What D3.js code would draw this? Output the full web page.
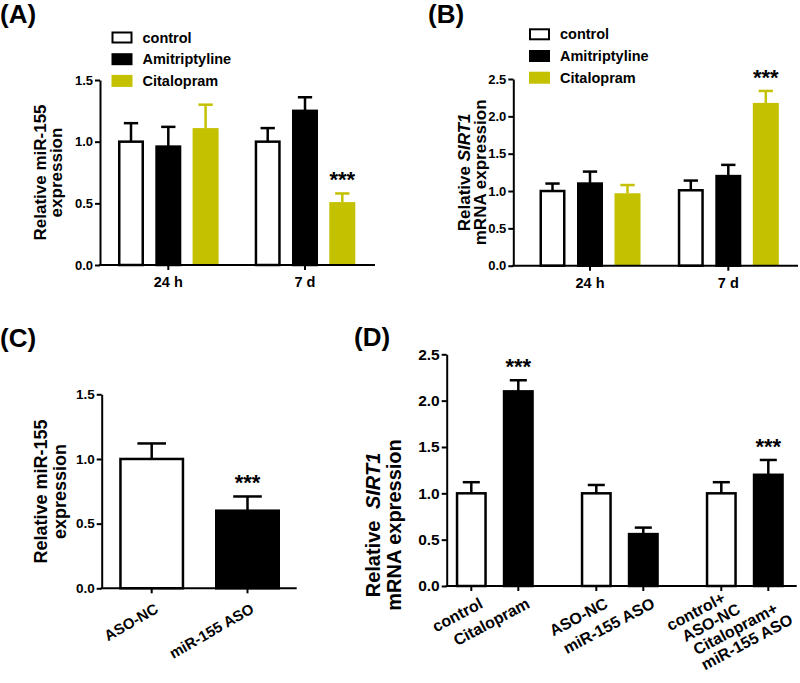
<!DOCTYPE html>
<html><head><meta charset="utf-8">
<script src="https://cdn.jsdelivr.net/npm/d3@7"></script>
<style>
body{margin:0;background:#fff}
svg{display:block;font-family:"Liberation Sans",Arial,Helvetica,sans-serif;font-weight:bold}
</style></head><body>
<svg id="chart" width="800" height="683"></svg>
<script>
// ---------- data ----------
const timePoints = ["24 h", "7 d"];
const treatments = ["control", "Amitriptyline", "Citalopram"];
const treatmentFill = ["#ffffff", "#000000", "#c3c100"];

// Panel A: relative miR-155 expression
const aMean = [[1.00, 0.96, 1.11], [1.00, 1.25, 0.51]];
const aErr  = [[0.15, 0.16, 0.19], [0.11, 0.11, 0.07]];
const aSig  = [["", "", ""], ["", "", "***"]];
const aTicks = [0, 0.5, 1.0, 1.5];

// Panel B: relative SIRT1 mRNA expression
const bMean = [[1.00, 1.10, 0.97], [1.01, 1.20, 2.18]];
const bErr  = [[0.10, 0.16, 0.11], [0.13, 0.15, 0.16]];
const bSig  = [["", "", ""], ["", "", "***"]];
const bTicks = [0, 0.5, 1.0, 1.5, 2.0, 2.5];

// Panel C
const cLabels = ["ASO-NC", "miR-155 ASO"];
const cMean = [1.00, 0.60];
const cErr  = [0.12, 0.11];
const cSig  = ["", "***"];
const cFill = ["#ffffff", "#000000"];
const cTicks = [0, 0.5, 1.0, 1.5];

// Panel D
const dGroups = ["g1", "g2", "g3"];
const dLabels = [["control"], ["Citalopram"], ["ASO-NC"], ["miR-155 ASO"], ["control+", "ASO-NC"], ["Citalopram+", "miR-155 ASO"]];
const dMean = [1.00, 2.10, 1.00, 0.56, 1.00, 1.20];
const dErr  = [0.12, 0.12, 0.09, 0.07, 0.12, 0.16];
const dSig  = ["", "***", "", "", "", "***"];
const dFill = ["#ffffff", "#000000", "#ffffff", "#000000", "#ffffff", "#000000"];
const dTicks = [0, 0.5, 1.0, 1.5, 2.0, 2.5];

// ---------- helpers ----------
const svg = d3.select("#chart");
const fmt = d3.format(".1f");
const AXW = 2;

function yAxis(g, y, x, ticks, fs) {
  const ax = g.append("g").attr("transform", `translate(${x},0)`)
    .call(d3.axisLeft(y).tickValues(ticks).tickFormat(fmt).tickSize(5).tickSizeOuter(0).tickPadding(2));
  ax.attr("font-family", null);
  ax.select(".domain").attr("stroke-width", AXW);
  ax.selectAll(".tick line").attr("stroke-width", AXW);
  ax.selectAll(".tick text").attr("font-size", fs).attr("fill", "#000");
}

function xAxisLine(g, y0, left, right, centers) {
  g.append("line").attr("x1", left - 1).attr("x2", right).attr("y1", y0).attr("y2", y0)
    .attr("stroke", "#000").attr("stroke-width", AXW);
  g.selectAll(null).data(centers).join("line")
    .attr("x1", d => d).attr("x2", d => d).attr("y1", y0).attr("y2", y0 + 5)
    .attr("stroke", "#000").attr("stroke-width", AXW);
}

function drawBars(g, data, y, bw, capRatio) {
  const isColor = d => d.fill !== "#ffffff" && d.fill !== "#000000";
  const eb = g.selectAll(null).data(data).join("g");
  eb.append("line").attr("x1", d => d.cx).attr("x2", d => d.cx)
    .attr("y1", d => y(d.v)).attr("y2", d => y(d.v + d.e))
    .attr("stroke", d => isColor(d) ? d.fill : "#000").attr("stroke-width", 2.5);
  eb.append("line").attr("x1", d => d.cx - bw * capRatio / 2).attr("x2", d => d.cx + bw * capRatio / 2)
    .attr("y1", d => y(d.v + d.e)).attr("y2", d => y(d.v + d.e))
    .attr("stroke", d => isColor(d) ? d.fill : "#000").attr("stroke-width", 2.5);
  g.selectAll(null).data(data).join("rect")
    .attr("x", d => d.cx - bw / 2 + (isColor(d) ? 0 : 1.25))
    .attr("width", d => bw - (isColor(d) ? 0 : 2.5))
    .attr("y", d => y(d.v))
    .attr("height", d => y(0) - y(d.v))
    .attr("fill", d => d.fill)
    .attr("stroke", d => isColor(d) ? "none" : "#000")
    .attr("stroke-width", 2.5);
  g.selectAll(null).data(data.filter(d => d.sig)).join("text")
    .attr("x", d => d.cx).attr("y", d => y(d.v + d.e) - 6)
    .attr("text-anchor", "middle").attr("font-size", 22).text(d => d.sig);
}

function yLabel(g, x, cy, lines, fs, lh) {
  const t = g.append("text").attr("transform", `translate(${x},${cy}) rotate(-90)`)
    .attr("text-anchor", "middle").attr("font-size", fs);
  lines.forEach((ln, i) => {
    const l = t.append("tspan").attr("x", 0).attr("y", i * lh);
    ln.forEach(part => {
      const s = l.append("tspan").text(part.t);
      if (part.i) s.attr("font-style", "italic");
      if (part.dx) s.attr("dx", part.dx);
    });
  });
}

function title(x, y, txt) {
  svg.append("text").attr("x", x).attr("y", y).attr("font-size", 26).text(txt);
}

function legend(g, x, y, step) {
  treatments.forEach((t, i) => {
    const yy = y + i * step;
    const col = treatmentFill[i] !== "#ffffff" && treatmentFill[i] !== "#000000";
    g.append("rect").attr("x", x + (col ? 0 : 1)).attr("y", yy - 6 + (col ? 0 : 1))
      .attr("width", col ? 21 : 19).attr("height", col ? 12 : 10)
      .attr("fill", treatmentFill[i])
      .attr("stroke", col ? "none" : "#000").attr("stroke-width", 2);
    g.append("text").attr("x", x + 31).attr("y", yy + 5).attr("font-size", 14.5).text(t);
  });
}

// ---------- grouped panels A & B ----------
function groupedPanel(opt) {
  const g = svg.append("g");
  const y = d3.scaleLinear().domain([0, opt.yMax]).range([opt.yBottom, opt.yTop]);
  const x0 = d3.scalePoint().domain(timePoints).range(opt.groupRange);
  const x1 = d3.scalePoint().domain(treatments).range([-opt.sub, opt.sub]);
  const data = [];
  timePoints.forEach((tp, i) => treatments.forEach((tr, j) => {
    data.push({cx: x0(tp) + x1(tr), v: opt.mean[i][j], e: opt.err[i][j], sig: opt.sig[i][j], fill: treatmentFill[j]});
  }));
  drawBars(g, data, y, opt.bw, 0.55);
  xAxisLine(g, y(0), opt.left, opt.right, timePoints.map(d => x0(d)));
  yAxis(g, y, opt.left, opt.ticks, 13);
  g.selectAll(null).data(timePoints).join("text")
    .attr("x", d => x0(d)).attr("y", y(0) + 22).attr("text-anchor", "middle")
    .attr("font-size", 14.5).text(d => d);
  legend(g, opt.legX, opt.legY, 21.7);
  yLabel(g, opt.labX, (opt.yTop + opt.yBottom) / 2, opt.label, 17, opt.labLH);
}

groupedPanel({mean: aMean, err: aErr, sig: aSig, ticks: aTicks, yMax: 1.5,
  yBottom: 265, yTop: 80, left: 100, right: 375, groupRange: [168.3, 305], sub: 37.3, bw: 26,
  legX: 111.5, legY: 37.5, labX: 46, labLH: 16,
  label: [[{t: "Relative miR-155"}], [{t: "expression"}]]});

groupedPanel({mean: bMean, err: bErr, sig: bSig, ticks: bTicks, yMax: 2.5,
  yBottom: 265.7, yTop: 79, left: 513.3, right: 798, groupRange: [590, 728.3], sub: 37.5, bw: 26,
  legX: 529, legY: 34.3, labX: 470, labLH: 16,
  label: [[{t: "Relative "}, {t: "SIRT1", i: true}], [{t: "mRNA expression"}]]});

title(0, 23, "(A)");
title(428, 23, "(B)");
title(0, 347, "(C)");
title(354, 346, "(D)");

// ---------- panel C ----------
(function () {
  const g = svg.append("g");
  const left = 101.7, right = 296.7;
  const y = d3.scaleLinear().domain([0, 1.5]).range([588.3, 394.3]);
  const x = d3.scalePoint().domain(cLabels).range([151.7, 247.5]);
  const data = cLabels.map((c, i) => ({cx: x(c), v: cMean[i], e: cErr[i], sig: cSig[i], fill: cFill[i]}));
  drawBars(g, data, y, 65, 0.44);
  xAxisLine(g, y(0), left, right, cLabels.map(d => x(d)));
  yAxis(g, y, left, cTicks, 13.5);
  g.selectAll(null).data(cLabels).join("text")
    .attr("transform", d => `translate(${x(d) + 5},${y(0) + 19}) rotate(-30)`)
    .attr("text-anchor", "end").attr("dy", "0.35em").attr("font-size", 15).text(d => d);
  yLabel(g, 46.5, 491.5, [[{t: "Relative miR-155"}], [{t: "expression"}]], 18, 19);
})();

// ---------- panel D ----------
(function () {
  const g = svg.append("g");
  const left = 446.7, right = 796.7;
  const y = d3.scaleLinear().domain([0, 2.5]).range([586, 354.3]);
  const x0 = d3.scalePoint().domain(dGroups).range([494.8, 744.8]);
  const cx = i => x0(dGroups[Math.floor(i / 2)]) + (i % 2 === 0 ? -23.5 : 23.5);
  const data = dMean.map((m, i) => ({cx: cx(i), v: m, e: dErr[i], sig: dSig[i], fill: dFill[i]}));
  drawBars(g, data, y, 31, 0.55);
  xAxisLine(g, y(0), left, right, data.map(d => d.cx));
  yAxis(g, y, left, dTicks, 15.5);

  // rotated, end-anchored category labels with simple collision avoidance
  const deg = 28, th = deg * Math.PI / 180;
  const along = [Math.cos(th), -Math.sin(th)];
  const perp = [Math.sin(th), Math.cos(th)];
  const LH = 17, shiftAlong = 8;
  let prevLast = -Infinity;
  dLabels.forEach((lines, i) => {
    const ax = cx(i) + 10, ay = y(0) + 16;
    const base = ax * perp[0] + ay * perp[1];
    const n = lines.length;
    let first = base - (n - 1) * LH / 2;
    if (first < prevLast + LH) first = prevLast + LH;
    lines.forEach((ln, k) => {
      const p = first + k * LH - base;
      const s = (k - (n - 1) / 2) * shiftAlong;
      const px = ax + perp[0] * p + along[0] * s;
      const py = ay + perp[1] * p + along[1] * s;
      g.append("text").attr("transform", `translate(${px},${py}) rotate(${-deg})`)
        .attr("text-anchor", "end").attr("dy", "0.35em").attr("font-size", 16).text(ln);
    });
    prevLast = first + (n - 1) * LH;
  });
  yLabel(g, 380, 525, [[{t: "Relative "}, {t: "SIRT1", i: true, dx: 6}], [{t: "mRNA expression"}]], 20, 21);
})();
</script></body></html>
